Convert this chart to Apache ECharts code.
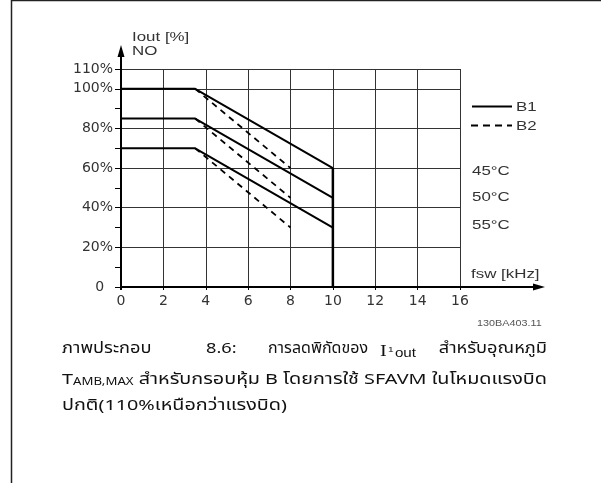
<!DOCTYPE html>
<html>
<head>
<meta charset="utf-8">
<script src="https://cdn.jsdelivr.net/npm/echarts@6/dist/echarts.min.js"></script>
<style>
  html, body { margin: 0; padding: 0; background: #fff; }
  #chart { width: 601px; height: 483px; }
</style>
</head>
<body>
<div id="chart"></div>
<script>
// Switching frequency ticks (kHz) and output-current axis ticks (%)
const xTicks = [0, 2, 4, 6, 8, 10, 12, 14, 16];
const yGridLines = [20, 40, 60, 80, 100, 110];
const yTickLabels = { 0: '0  ', 20: '20%', 40: '40%', 60: '60%', 80: '80%', 100: '100%', 110: '110%' };

// B1 derating (solid): fsw points and Iout for 45/50/55 °C
const fswB1 = [0, 3.5, 10];
const b1At45 = [100, 100, 60];
const b1At50 = [85, 85, 45];
const b1At55 = [70, 70, 30];

// B2 derating (dashed)
const fswB2 = [3.5, 8];
const b2At45 = [100, 60];
const b2At50 = [85, 45];
const b2At55 = [70, 30];

// Cut-off at maximum switching frequency of B1
const cutoffFsw = [10, 10];
const cutoffIout = [60, 0];

const pair = (xs, ys) => xs.map((x, i) => [x, ys[i]]);

const FONT = '"Liberation Sans", Arial, sans-serif';
const AXFONT = '"DejaVu Sans", Verdana, sans-serif';
const THAI = 'Tahoma, "Noto Sans Thai", "Noto Sans", "DejaVu Sans", sans-serif';
const SERIF = '"Liberation Serif", "DejaVu Serif", serif';
const TEXT_STRETCH = 1.3;   // labels are set in a wide face

const chart = echarts.init(document.getElementById('chart'), null, { renderer: 'canvas' });

const solid = { color: '#000', width: 2, type: 'solid' };
const dashed = { color: '#000', width: 1.8, type: [6, 5] };

function lineSeries(data, style) {
  return {
    type: 'line', data, symbol: 'none', silent: true, animation: false,
    lineStyle: style, z: 5
  };
}

chart.setOption({
  animation: false,
  grid: { left: 121, right: 141, top: 69, bottom: 196, containLabel: false },
  xAxis: {
    type: 'value', min: 0, max: 16, interval: 2,
    axisLine: { show: false },
    axisTick: { show: true, length: 3, lineStyle: { color: '#000', width: 1 } },
    axisLabel: { color: '#333', fontSize: 14, fontFamily: AXFONT, margin: 7 },
    splitLine: { show: true, lineStyle: { color: '#333', width: 1 } }
  },
  yAxis: {
    type: 'value', min: 0, max: 110, interval: 10,
    axisLine: { show: false },
    axisTick: { show: true, length: 6, lineStyle: { color: '#000', width: 1 } },
    axisLabel: {
      color: '#333', fontSize: 14, fontFamily: AXFONT, margin: 8,
      formatter: v => (yTickLabels[v] !== undefined ? yTickLabels[v] : '')
    },
    splitLine: { show: false }
  },
  series: [
    {
      type: 'line', data: [], silent: true,
      markLine: {
        silent: true, symbol: 'none', animation: false,
        label: { show: false },
        lineStyle: { color: '#333', width: 1, type: 'solid' },
        data: yGridLines.map(v => ({ yAxis: v }))
      }
    },
    lineSeries(pair(fswB1, b1At45), solid),
    lineSeries(pair(fswB1, b1At50), solid),
    lineSeries(pair(fswB1, b1At55), solid),
    lineSeries(pair(fswB2, b2At45), dashed),
    lineSeries(pair(fswB2, b2At50), dashed),
    lineSeries(pair(fswB2, b2At55), dashed),
    lineSeries(pair(cutoffFsw, cutoffIout), { color: '#000', width: 2.5 })
  ]
});

// text measuring, used to fit the caption to the column width
const mctx = document.createElement('canvas').getContext('2d');
function textWidth(text, font) { mctx.font = font; return mctx.measureText(text).width; }

// Axis lines with arrowheads, page frame, legend keys and caption
const origin = chart.convertToPixel({ gridIndex: 0 }, [0, 0]);
const ox = origin[0], oy = origin[1];
const xArrowTip = 545, yArrowTip = 45;

const txt = (x, y, text, size, extra, sx) => ({
  type: 'text', x, y, silent: true, scaleX: sx || TEXT_STRETCH,
  style: Object.assign({ text, fill: '#333', font: size + 'px ' + FONT, verticalAlign: 'middle', align: 'left' }, extra || {})
});

// caption sizing
const capFont = '15px ' + THAI;
const capSmall = '10px ' + THAI;
const line2Rest = ' สำหรับกรอบหุ้ม B โดยการใช้ SFAVM ในโหมดแรงบิด';
const line2Width = textWidth('T', capFont) + textWidth('AMB,MAX', capSmall) + textWidth(line2Rest, capFont);
const capStretch = (547 - 62) / line2Width;
const line1Stretch = capStretch * 0.92;

const thai = (x, y, text, sx, align) => ({
  type: 'text', x, y, silent: true, scaleX: sx || capStretch,
  style: { text, fill: '#111', font: capFont, verticalAlign: 'middle', align: align || 'left' }
});
// a word stretched to span [x0, x1]
const fitted = (x0, x1, y, text) => thai(x0, y, text, (x1 - x0) / textWidth(text, capFont));

const iFont = '16px ' + SERIF, oneFont = '8px ' + FONT, outFont = '12px ' + FONT;
const ioutWidth = textWidth('I', iFont) + textWidth('1', oneFont) + 2 + textWidth('out', outFont);

chart.setOption({
  graphic: [
    // page frame
    { type: 'line', silent: true, shape: { x1: 11.5, y1: 0, x2: 11.5, y2: 483 }, style: { stroke: '#222', lineWidth: 1.5 } },
    { type: 'line', silent: true, shape: { x1: 11, y1: 0.5, x2: 601, y2: 0.5 }, style: { stroke: '#222', lineWidth: 1.5 } },
    // axes
    { type: 'line', silent: true, z: 10, shape: { x1: ox - 1, y1: oy, x2: xArrowTip - 8, y2: oy }, style: { stroke: '#000', lineWidth: 2 } },
    { type: 'polygon', silent: true, z: 10, shape: { points: [[xArrowTip, oy], [xArrowTip - 12, oy - 3.5], [xArrowTip - 12, oy + 3.5]] }, style: { fill: '#000' } },
    { type: 'line', silent: true, z: 10, shape: { x1: ox, y1: oy + 3, x2: ox, y2: yArrowTip + 8 }, style: { stroke: '#000', lineWidth: 2 } },
    { type: 'polygon', silent: true, z: 10, shape: { points: [[ox, yArrowTip], [ox - 3.5, yArrowTip + 12], [ox + 3.5, yArrowTip + 12]] }, style: { fill: '#000' } },
    // axis titles
    txt(132, 37, 'Iout [%]', 13),
    txt(132, 51, 'NO', 13),
    txt(471, 274, 'fsw [kHz]', 13),
    // legend
    { type: 'line', silent: true, shape: { x1: 472, y1: 106.5, x2: 512, y2: 106.5 }, style: { stroke: '#000', lineWidth: 2 } },
    txt(516, 107, 'B1', 13),
    { type: 'line', silent: true, shape: { x1: 471, y1: 125.5, x2: 512, y2: 125.5 }, style: { stroke: '#000', lineWidth: 2, lineDash: [7, 5] } },
    txt(516, 126, 'B2', 13),
    txt(472, 171, '45°C', 13),
    txt(472, 197, '50°C', 13),
    txt(472, 225, '55°C', 13),
    txt(477, 324, '130BA403.11', 9, { fill: '#555' }, 1.2),
    // caption, line 1 (justified words)
    thai(62, 350, 'ภาพประกอบ', line1Stretch),
    thai(206, 350, '8.6:', line1Stretch),
    fitted(268, 368, 350, 'การลดพิกัดของ'),
    {
      type: 'text', x: 380, y: 350, silent: true, scaleX: 36 / ioutWidth,
      style: {
        text: '{i|I}{s|1}{o|out}', verticalAlign: 'middle', align: 'left', fill: '#111',
        rich: {
          i: { font: iFont, fill: '#111', verticalAlign: 'bottom', lineHeight: 20 },
          s: { font: oneFont, fill: '#111', verticalAlign: 'middle', lineHeight: 20, padding: [0, 1, 0, 1] },
          o: { font: outFont, fill: '#111', verticalAlign: 'bottom', lineHeight: 20 }
        }
      }
    },
    thai(547, 350, 'สำหรับอุณหภูมิ', line1Stretch, 'right'),
    // caption, line 2
    {
      type: 'text', x: 62, y: 378, silent: true, scaleX: capStretch,
      style: {
        text: '{t|T}{c|AMB,MAX}{r|' + line2Rest + '}',
        verticalAlign: 'middle', align: 'left', fill: '#111',
        rich: {
          t: { font: capFont, fill: '#111', verticalAlign: 'bottom', lineHeight: 20 },
          c: { font: capSmall, fill: '#111', verticalAlign: 'bottom', lineHeight: 20 },
          r: { font: capFont, fill: '#111', verticalAlign: 'bottom', lineHeight: 20 }
        }
      }
    },
    // caption, line 3
    thai(62, 407, 'ปกติ(110%เหนือกว่าแรงบิด)')
  ]
});
</script>
</body>
</html>
